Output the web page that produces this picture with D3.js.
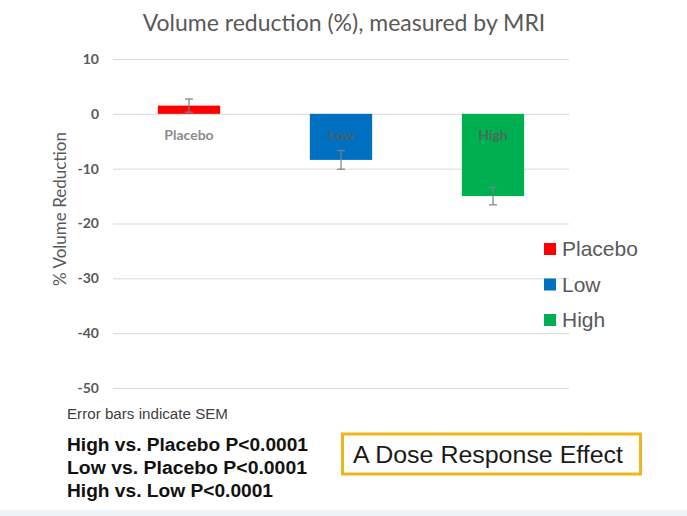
<!DOCTYPE html>
<html>
<head>
<meta charset="utf-8">
<script src="https://cdn.jsdelivr.net/npm/d3@7"></script>
<style>
  body { margin: 0; background: #fff; }
  svg { display: block; }
</style>
</head>
<body>
<div id="chart"></div>
<script>
// chart values
var groups = ["Placebo", "Low", "High"];
var means = [1.5, -8.4, -15.0];
var sems = [1.2, 1.7, 1.6];
var colors = ["#ff0000", "#0070c0", "#00b050"];
var yTicks = [10, 0, -10, -20, -30, -40, -50];
var notes = ["High vs. Placebo P<0.0001", "Low vs. Placebo P<0.0001", "High vs. Low P<0.0001"];

var width = 687, height = 516;

var svg = d3.select("#chart").append("svg")
    .attr("width", width)
    .attr("height", height);

// bottom strip of the slide
svg.append("rect")
    .attr("x", 0).attr("y", 510)
    .attr("width", width).attr("height", 6)
    .style("fill", "#eef3f8");

var x = d3.scaleBand()
    .domain(groups)
    .range([113, 569])
    .paddingInner(0.59)
    .paddingOuter(0.295);

var y = d3.scaleLinear()
    .domain([-50, 10])
    .range([388, 59]);

// title
svg.append("text")
    .attr("x", 344)
    .attr("y", 31)
    .style("text-anchor", "middle")
    .style("font-family", "Lato, 'Open Sans', sans-serif")
    .style("font-size", "23px")
    .style("fill", "#595959")
    .text("Volume reduction (%), measured by MRI");

// gridlines + tick labels (plain hyphen like the slide)
var yAxis = d3.axisLeft(y)
    .tickValues(yTicks)
    .tickSize(-(569 - 113))
    .tickPadding(14)
    .tickFormat(function(d){ return String(d) });

var gy = svg.append("g")
    .attr("transform", "translate(113,0)")
    .call(yAxis);
gy.select(".domain").remove();
gy.selectAll(".tick line").style("stroke", "#d9d9d9");
gy.selectAll(".tick text")
    .style("font-family", "Lato, sans-serif")
    .style("font-size", "14px")
    .style("font-weight", "bold")
    .style("fill", "#595959");

svg.append("text")
    .attr("transform", "translate(66,209) rotate(-90)")
    .style("text-anchor", "middle")
    .style("font-family", "Lato, sans-serif")
    .style("font-size", "17px")
    .style("fill", "#595959")
    .text("% Volume Reduction");

// bars
svg.selectAll(".bar")
    .data(groups)
    .enter().append("rect")
    .attr("class", "bar")
    .attr("x", function(d){ return x(d) })
    .attr("width", x.bandwidth())
    .attr("y", function(d, i){ return y(Math.max(0, means[i])) })
    .attr("height", function(d, i){ return Math.abs(y(means[i]) - y(0)) })
    .style("fill", function(d, i){ return colors[i] });

// error bars
var err = svg.selectAll(".err")
    .data(groups)
    .enter().append("g")
    .attr("class", "err")
    .style("stroke", "#7f7f7f")
    .style("stroke-width", 1.2);
err.append("line")
    .attr("x1", function(d){ return x(d) + x.bandwidth() / 2 })
    .attr("x2", function(d){ return x(d) + x.bandwidth() / 2 })
    .attr("y1", function(d, i){ return y(means[i] + sems[i]) })
    .attr("y2", function(d, i){ return y(means[i] - sems[i]) });
[1, -1].forEach(function(s){
  err.append("line")
    .attr("x1", function(d){ return x(d) + x.bandwidth() / 2 - 4 })
    .attr("x2", function(d){ return x(d) + x.bandwidth() / 2 + 4 })
    .attr("y1", function(d, i){ return y(means[i] + s * sems[i]) })
    .attr("y2", function(d, i){ return y(means[i] + s * sems[i]) });
});

// category labels under the zero line
svg.selectAll(".cat")
    .data(groups)
    .enter().append("text")
    .attr("class", "cat")
    .attr("x", function(d){ return x(d) + x.bandwidth() / 2 })
    .attr("y", 140)
    .style("text-anchor", "middle")
    .style("font-family", "Lato, sans-serif")
    .style("font-size", "14px")
    .style("font-weight", "bold")
    .style("fill", function(d, i){ return i == 0 ? "#8c8c8c" : "#5a5a5a" })
    .style("fill-opacity", function(d, i){ return i == 0 ? 1 : 0.8 })
    .text(function(d){ return d });

// legend
var legend = svg.selectAll(".legend")
    .data(groups)
    .enter().append("g")
    .attr("class", "legend")
    .attr("transform", function(d, i){ return "translate(544," + (243 + i * 35.5) + ")" });
legend.append("rect")
    .attr("width", 12).attr("height", 12)
    .style("fill", function(d, i){ return colors[i] });
legend.append("text")
    .attr("x", 18)
    .attr("y", 13)
    .style("font-family", "'Liberation Sans', Arial, sans-serif")
    .style("font-size", "21px")
    .style("fill", "#595959")
    .text(function(d){ return d });

// footnotes
svg.append("text")
    .attr("x", 67).attr("y", 419)
    .attr("textLength", 161)
    .attr("lengthAdjust", "spacingAndGlyphs")
    .style("font-family", "'Liberation Sans Narrow', 'Arial Narrow', 'Liberation Sans', sans-serif")
    .style("font-size", "14px")
    .style("fill", "#404040")
    .text("Error bars indicate SEM");

var noteLen = [241, 240, 206];
svg.selectAll(".note")
    .data(notes)
    .enter().append("text")
    .attr("class", "note")
    .attr("x", 67)
    .attr("y", function(d, i){ return 451 + i * 23 })
    .attr("textLength", function(d, i){ return noteLen[i] })
    .attr("lengthAdjust", "spacingAndGlyphs")
    .style("font-family", "'Liberation Sans Narrow', 'Arial Narrow', 'Liberation Sans', sans-serif")
    .style("font-size", "18px")
    .style("font-weight", "bold")
    .style("fill", "#111")
    .text(function(d){ return d });

// callout box
svg.append("rect")
    .attr("x", 342.5).attr("y", 434)
    .attr("width", 298).attr("height", 40)
    .style("fill", "#fff")
    .style("stroke", "#f0b41c")
    .style("stroke-width", 3);
svg.append("text")
    .attr("x", 353).attr("y", 463)
    .attr("textLength", 270)
    .attr("lengthAdjust", "spacingAndGlyphs")
    .style("font-family", "'Liberation Sans', Arial, sans-serif")
    .style("font-size", "23px")
    .style("fill", "#1a1a1a")
    .text("A Dose Response Effect");
</script>
</body>
</html>
